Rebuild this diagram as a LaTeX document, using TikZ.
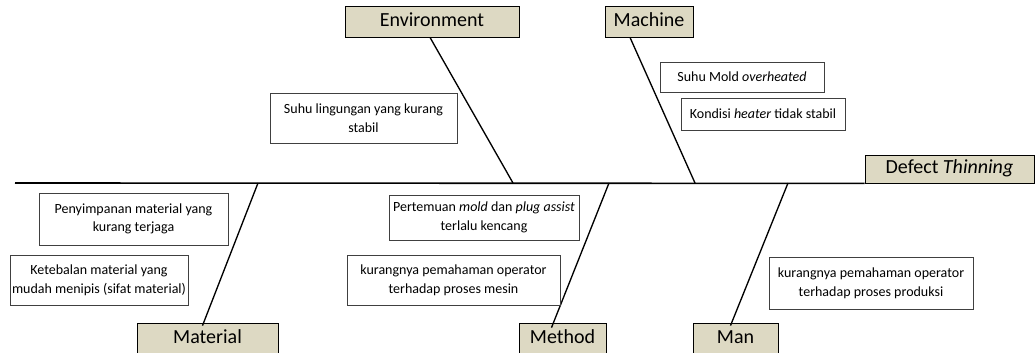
\documentclass[tikz,border=0pt]{standalone}
\usepackage{fontspec}
\setmainfont{Carlito}
\usepackage{tikz}
\usetikzlibrary{calc}
\definecolor{khaki}{RGB}{221,217,195}
\definecolor{boxline}{RGB}{64,64,64}
\tikzset{
    category/.style={draw=black, fill=khaki, line width=0.6pt, inner sep=0pt,
        minimum height=23.25pt, text height=0.85em, text depth=0.15em,
        font=\fontsize{15}{18}\selectfont},
    cause/.style={draw=boxline, line width=0.6pt, inner sep=0pt, align=center,
        font=\fontsize{10.5}{14}\selectfont},
    bone/.style={line width=1pt},
}

\begin{document}
\begin{tikzpicture}[x=0.75pt, y=-0.75pt]
\useasboundingbox (0,0) rectangle (1036,353);

% head and spine
\node[category, minimum width=126.75pt, minimum height=21pt] (defect) at (949.5,169) {Defect \textit{Thinning}};
\coordinate (tail) at (15,183);
\draw[bone, line width=1.2pt] (tail) -- (defect.south west);

\coordinate (jMat) at (258,183); \coordinate (jEnv) at (513,183);
\coordinate (jMeth) at (609,183); \coordinate (jMach) at (695,183);
\coordinate (jMan) at (788,183);

% categories
\node[category, minimum width=130.5pt] (env) at (432,21.5) {Environment};
\node[category, minimum width=66pt] (mach) at (649,21.5) {Machine};
\node[category, minimum width=105.75pt] (mat) at (207.5,338.5) {Material};
\node[category, minimum width=65.25pt] (meth) at (562.5,338.5) {Method};
\node[category, minimum width=63.75pt] (man) at (735.5,338.5) {Man};

\draw[bone] ($(env.south)+(-2,0)$) -- (jEnv);
\draw[bone] ($(mach.south)+(-19,0)$) -- (jMach);
\draw[bone] ($(mat.north)+(-5,3)$) -- (jMat);
\draw[bone] ($(meth.north)+(-11,5)$) -- (jMeth);
\draw[bone] ($(man.north)+(-5,3)$) -- (jMan);

% causes
\node[cause, minimum width=140.25pt, minimum height=37.5pt] (env1) at (363.5,118) {Suhu lingungan yang kurang\\stabil};
\node[cause, minimum width=123pt, minimum height=22.5pt] (mach1) at (742,77) {Suhu Mold \textit{overheated}};
\node[cause, minimum width=123pt, minimum height=24pt] (mach2) at (763,114) {Kondisi \textit{heater} tidak stabil};
\node[cause, minimum width=141.75pt, minimum height=39pt] (mat1) at (133.5,219) {Penyimpanan material yang\\kurang terjaga};
\node[cause, minimum width=133.5pt, minimum height=37.5pt] (mat2) at (99,280) {Ketebalan material yang\\mudah menipis (sifat material)};
\node[cause, minimum width=142.5pt, minimum height=33.75pt] (meth1) at (484,217.5) {Pertemuan \textit{mold} dan \textit{plug assist}\\terlalu kencang};
\node[cause, minimum width=159.75pt, minimum height=37.5pt] (meth2) at (453.5,280) {kurangnya pemahaman operator\\terhadap proses mesin};
\node[cause, minimum width=153pt, minimum height=39pt] (man1) at (871,283) {kurangnya pemahaman operator\\terhadap proses produksi};
\end{tikzpicture}
\end{document}
